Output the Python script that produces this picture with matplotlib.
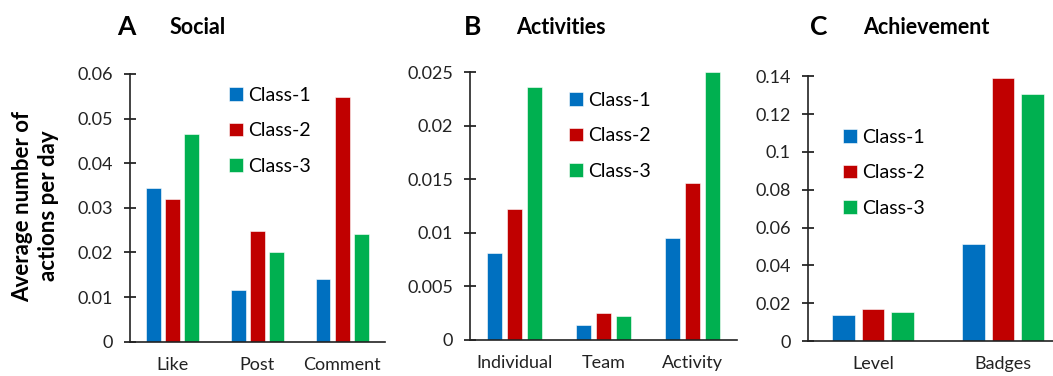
import matplotlib.pyplot as plt
import numpy as np

plt.rcParams["font.family"] = ["Lato", "DejaVu Sans"]

# data
classes = ["Class-1", "Class-2", "Class-3"]
colors = ["#0070C0", "#C00000", "#00B050"]

social_cats = ["Like", "Post", "Comment"]
social_vals = [
    [0.0345, 0.0116, 0.0141],
    [0.0320, 0.0248, 0.0548],
    [0.0465, 0.0200, 0.0241],
]

activ_cats = ["Individual", "Team", "Activity"]
activ_vals = [
    [0.0081, 0.0014, 0.0095],
    [0.0122, 0.0025, 0.0147],
    [0.0236, 0.0022, 0.0250],
]

achiev_cats = ["Level", "Badges"]
achiev_vals = [
    [0.0138, 0.0515],
    [0.0169, 0.1390],
    [0.0155, 0.1308],
]

W, H = 1053, 376
fig = plt.figure(figsize=(W / 100, H / 100), dpi=100)


def px_axes(left, right, bottom, top):
    return fig.add_axes([left / W, 1 - bottom / H, (right - left) / W, (bottom - top) / H])


panels = [
    dict(cats=social_cats, vals=social_vals, box=(130, 384.5, 341.7, 74),
         ylim=0.06, yticks=np.arange(0, 0.061, 0.01), fmt=lambda v: "0" if v == 0 else f"{v:.2f}",
         xlim=(-0.5, 2.5), leg=(229, 87), letter="A", title="Social", lx=117, tx=170),
    dict(cats=activ_cats, vals=activ_vals, box=(470, 737, 340, 72.3),
         ylim=0.025, yticks=np.arange(0, 0.0251, 0.005), fmt=lambda v: "0" if v == 0 else f"{v:g}",
         xlim=(-0.5, 2.5), leg=(569, 92), letter="B", title="Activities", lx=464, tx=516),
    dict(cats=achiev_cats, vals=achiev_vals, box=(808, 1053, 341, 76.3),
         ylim=0.14, yticks=np.arange(0, 0.141, 0.02), fmt=lambda v: "0" if v == 0 else f"{v:g}",
         xlim=(-0.5, 1.385), leg=(843, 129), letter="C", title="Achievement", lx=810, tx=863),
]

bw = 0.175
step = 0.225

for p in panels:
    ax = px_axes(*p["box"])
    x = np.arange(len(p["cats"]))
    for i, (cls, col) in enumerate(zip(classes, colors)):
        ax.bar(x + (i - 1) * step, p["vals"][i], width=bw, color=col,
               edgecolor="white", linewidth=0.4, label=cls)
    ax.set_xlim(*p["xlim"])
    ax.set_ylim(0, p["ylim"])
    ax.set_yticks(p["yticks"])
    ax.set_yticklabels([p["fmt"](round(v, 4)) for v in p["yticks"]], fontsize=13, color="#222222")
    ax.set_xticks(x)
    ax.set_xticklabels(p["cats"], fontsize=13, color="#222222")
    ax.tick_params(axis="x", length=0, pad=11)
    ax.tick_params(axis="y", direction="inout", length=8.5, width=1.1, pad=8)
    for s in ["top", "right"]:
        ax.spines[s].set_visible(False)
    for s in ["left", "bottom"]:
        ax.spines[s].set_linewidth(1.2)
        ax.spines[s].set_color("#222222")
    lx, ly = p["leg"]
    ax.legend(loc="upper left", bbox_to_anchor=(lx / W, 1 - ly / H),
              bbox_transform=fig.transFigure, frameon=False, fontsize=14,
              handlelength=0.7, handleheight=0.7, handletextpad=0.3,
              labelspacing=0.95, borderpad=0, borderaxespad=0)
    fig.text(p["lx"] / W, 1 - 27 / H, p["letter"], fontsize=19, fontweight="bold",
             ha="left", va="center")
    fig.text(p["tx"] / W, 1 - 27 / H, p["title"], fontsize=15.5, fontweight="bold",
             ha="left", va="center")

fig.text(35.5 / W, 1 - 206 / H, "Average number of\nactions per day", rotation=90,
         fontsize=16, fontweight="bold", ha="center", va="center",
         multialignment="center", linespacing=1.25)

fig.savefig("out.png", dpi=100)
